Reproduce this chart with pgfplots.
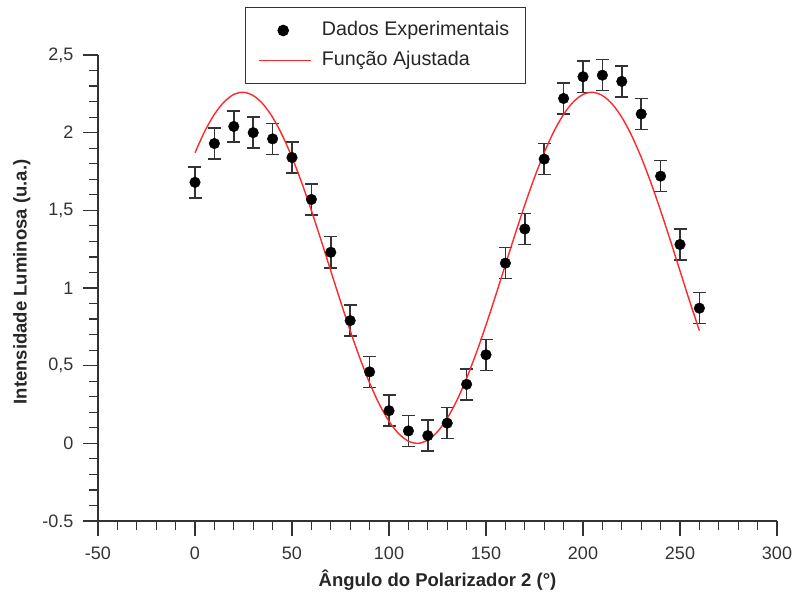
\documentclass[border=0pt]{standalone}
\usepackage{fontspec}
\setmainfont{Liberation Sans}
\usepackage{pgfplots}
\pgfplotsset{compat=1.18}
\definecolor{axgray}{HTML}{333333}
\definecolor{fitred}{HTML}{FF2828}
\pgfplotsset{
  linelegend/.style={legend image code/.code={\draw[##1] (0pt,0pt) -- (52pt,0pt);}},
  marklegend/.style={legend image code/.code={\draw[mark repeat=2,mark phase=2,##1] plot coordinates {(0pt,0pt) (24pt,0pt) (48pt,0pt)};}},
}
\begin{document}
\begin{tikzpicture}
\begin{axis}[
  scale only axis,
  width=679pt, height=466pt,
  xmin=-50, xmax=300, ymin=-0.5, ymax=2.5,
  axis lines=left,
  axis line style={-, axgray, line width=1.2pt},
  xtick={-50,0,50,100,150,200,250,300},
  xticklabels={-50,0,50,100,150,200,250,300},
  ytick={-0.5,0,0.5,1,1.5,2,2.5},
  yticklabels={-0.5,0,{0,5},1,{1,5},2,{2,5}},
  minor x tick num=4, minor y tick num=4,
  tick align=outside,
  major tick length=15pt, minor tick length=9pt,
  every tick/.style={axgray, line width=1.2pt},
  tick label style={font=\fontsize{18}{21}\selectfont, text=axgray},
  xticklabel style={yshift=-7pt},
  yticklabel style={xshift=-6pt},
  xlabel={\bfseries Ângulo do Polarizador 2 (°)},
  ylabel={\bfseries Intensidade Luminosa (u.a.)},
  label style={font=\fontsize{18.5}{22}\selectfont, text=black!85},
  xlabel style={at={(axis description cs:0.5,-0.1266)}, anchor=center},
  ylabel style={at={(axis description cs:-0.112,0.513)}, anchor=center},
  legend style={at={(axis description cs:0.2165,1.103)}, anchor=north west,
    draw=axgray, line width=1pt, inner xsep=13pt, inner ysep=11pt, row sep=6pt,
    column sep=7pt,
    font=\fontsize{19.7}{23}\selectfont, text=black!85,
    nodes={inner sep=3pt, text height=14pt, text depth=4pt}},
  legend cell align=left,
  clip=false,
]
\addplot[only marks, mark=*, mark size=5.3pt, black, marklegend,
  error bars/.cd, y dir=both, y fixed=0.1,
  error mark=|,
  error bar style={axgray, line width=1.5pt},
  error mark options={axgray, mark size=6.5pt, line width=1.5pt}]
  coordinates {
  (0,1.68) (10,1.93) (20,2.04) (30,2.00) (40,1.96) (50,1.84) (60,1.57)
  (70,1.23) (80,0.79) (90,0.46) (100,0.21) (110,0.08) (120,0.05) (130,0.13)
  (140,0.38) (150,0.57) (160,1.16) (170,1.38) (180,1.83) (190,2.22) (200,2.36)
  (210,2.37) (220,2.33) (230,2.12) (240,1.72) (250,1.28) (260,0.87)
  };
\addlegendentry{Dados Experimentais}
\addplot[fitred, line width=1.4pt, smooth, no marks, linelegend]
  coordinates {
  (0,1.871) (5,2.008) (10,2.118) (15,2.198) (20,2.246) (25,2.260) (30,2.239)
  (35,2.185) (40,2.099) (45,1.983) (50,1.841) (55,1.678) (60,1.498) (65,1.307)
  (70,1.110) (75,0.914) (80,0.725) (85,0.548) (90,0.389) (95,0.252) (100,0.142)
  (105,0.062) (110,0.014) (115,0.000) (120,0.021) (125,0.075) (130,0.161)
  (135,0.277) (140,0.419) (145,0.582) (150,0.762) (155,0.953) (160,1.150)
  (165,1.346) (170,1.535) (175,1.712) (180,1.871) (185,2.008) (190,2.118)
  (195,2.198) (200,2.246) (205,2.260) (210,2.239) (215,2.185) (220,2.099)
  (225,1.983) (230,1.841) (235,1.678) (240,1.498) (245,1.307) (250,1.110)
  (255,0.914) (260,0.725)
  };
\addlegendentry{Função Ajustada}
\coordinate (O) at (rel axis cs:0,0);
\end{axis}
\pgfresetboundingbox
\path (O) ++(-98pt,-70pt) rectangle ++(794pt,591pt);
\end{tikzpicture}
\end{document}
